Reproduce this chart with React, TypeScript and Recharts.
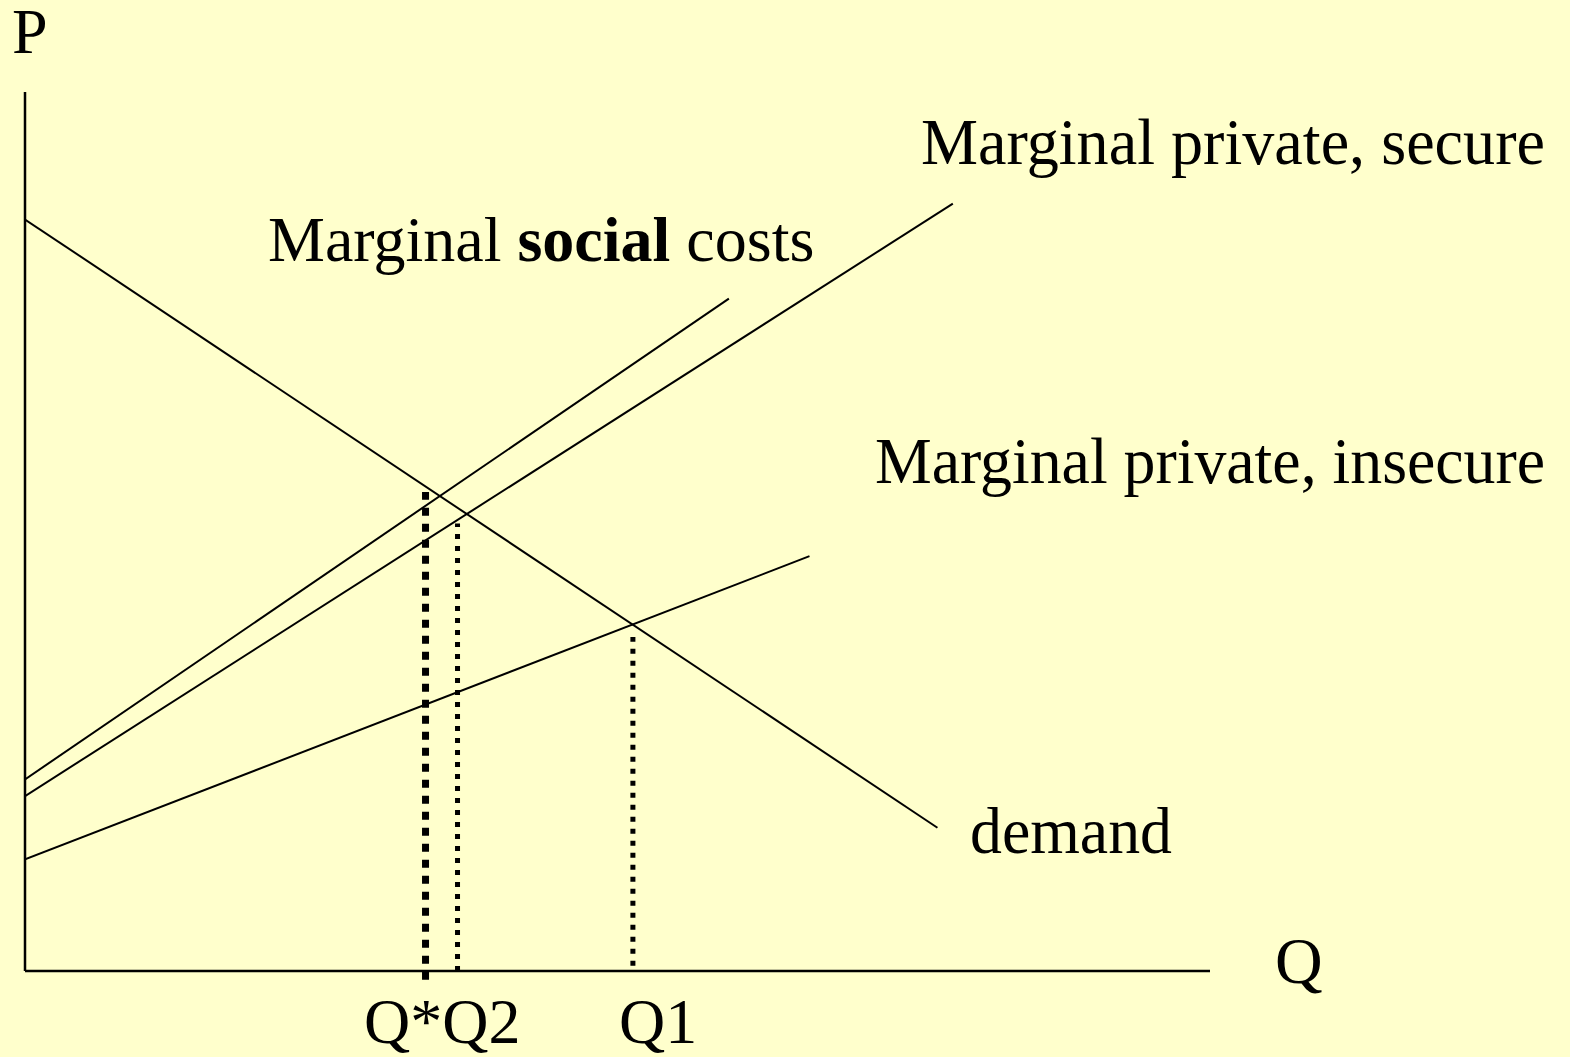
import React from 'react';
import { ComposedChart, Line, XAxis, YAxis, ReferenceLine } from 'recharts';

type Pt = { q: number; p: number };

// curves (Q and P both on a 0..100 scale)
const demand: Pt[] = [{ q: 0, p: 85.5 }, { q: 77.0, p: 16.3 }];
const socialCosts: Pt[] = [{ q: 0, p: 21.8 }, { q: 59.4, p: 76.5 }];
const privateSecure: Pt[] = [{ q: 0, p: 19.9 }, { q: 78.3, p: 87.3 }];
const privateInsecure: Pt[] = [{ q: 0, p: 12.7 }, { q: 66.2, p: 47.2 }];

// dotted drop lines to the Q axis
const qStarDrop: Pt[] = [{ q: 33.8, p: -1.0 }, { q: 33.8, p: 54.5 }];
const q2Drop: Pt[] = [{ q: 36.5, p: 0 }, { q: 36.5, p: 50.9 }];
const q1Drop: Pt[] = [{ q: 51.3, p: 0.6 }, { q: 51.3, p: 38.0 }];

const W = 1570;
const H = 1057;
const BG = '#FFFFCC';
const FONT = "'Liberation Serif', 'Times New Roman', serif";

const solid = { stroke: '#000', strokeWidth: 2, dot: false, type: 'linear' as const, isAnimationActive: false };

export default function App() {
  return (
    <div style={{ position: 'absolute', left: 0, top: 0, width: W, height: H, background: BG }}>
      <ComposedChart width={W} height={H} margin={{ top: 92, right: 360, bottom: 42, left: 25 }}>
        <XAxis type="number" dataKey="q" domain={[0, 100]} hide allowDataOverflow />
        <YAxis type="number" dataKey="p" domain={[-5, 100]} hide allowDataOverflow />
        <ReferenceLine segment={[{ x: 0, y: 0 }, { x: 0, y: 100 }]} stroke="#000" strokeWidth={2.5} ifOverflow="visible" />
        <ReferenceLine segment={[{ x: 0, y: 0 }, { x: 100, y: 0 }]} stroke="#000" strokeWidth={2.5} ifOverflow="visible" />
        <Line data={demand} dataKey="p" {...solid} />
        <Line data={socialCosts} dataKey="p" {...solid} />
        <Line data={privateSecure} dataKey="p" {...solid} />
        <Line data={privateInsecure} dataKey="p" {...solid} />
        <Line data={qStarDrop} dataKey="p" type="linear" stroke="#000" strokeWidth={7} strokeDasharray="8 8" dot={false} isAnimationActive={false} />
        <Line data={q2Drop} dataKey="p" type="linear" stroke="#000" strokeWidth={5} strokeDasharray="5 7" dot={false} isAnimationActive={false} />
        <Line data={q1Drop} dataKey="p" type="linear" stroke="#000" strokeWidth={5} strokeDasharray="5 7" dot={false} isAnimationActive={false} />
      </ComposedChart>
      <svg width={W} height={H} style={{ position: 'absolute', left: 0, top: 0, pointerEvents: 'none' }}>
        <g fontFamily={FONT} fill="#000" fontSize={66}>
          <text x={12} y={53} fontSize={64}>P</text>
          <text x={1275} y={983}>Q</text>
          <text x={921} y={164} textLength={624} lengthAdjust="spacingAndGlyphs">Marginal private, secure</text>
          <text x={268} y={261} fontSize={64}>
            Marginal <tspan fontWeight="bold">social</tspan> costs
          </text>
          <text x={875} y={483} textLength={670} lengthAdjust="spacingAndGlyphs">Marginal private, insecure</text>
          <text x={970} y={853} textLength={202} lengthAdjust="spacingAndGlyphs">demand</text>
          <text x={364} y={1043} fontSize={64}>Q*Q2</text>
          <text x={619} y={1043} fontSize={64}>Q1</text>
        </g>
      </svg>
    </div>
  );
}
